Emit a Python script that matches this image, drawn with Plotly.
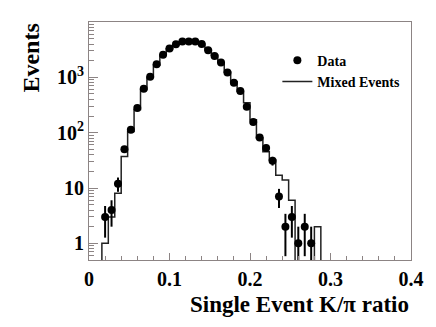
import numpy as np
import plotly.graph_objects as go

# bin layout: 50 bins of 0.008 from 0 to 0.4
bin_edges = [round(0.008 * i, 3) for i in range(51)]

# Data: bin centres and counts (bins with entries)
data_x = [0.020, 0.028, 0.036, 0.044, 0.052, 0.060, 0.068, 0.076, 0.084, 0.092,
          0.100, 0.108, 0.116, 0.124, 0.132, 0.140, 0.148, 0.156, 0.164, 0.172,
          0.180, 0.188, 0.196, 0.204, 0.212, 0.220, 0.228, 0.236, 0.244, 0.252,
          0.260, 0.268, 0.276]
data_y = [3, 4, 12, 50, 113, 280, 620, 1030, 1720, 2550,
          3320, 3950, 4450, 4420, 4420, 4000, 3080, 2440, 1850, 1220,
          800, 565, 293, 156, 82, 53, 31, 7, 2, 3,
          1, 2, 1]

# Mixed events histogram, one value per bin
mixed_y = [0, 0, 1, 3, 8, 37, 105, 262, 600, 1000,
           1650, 2500, 3300, 3900, 4350, 4450, 4350, 4000, 3200, 2500,
           1850, 1250, 830, 560, 347, 172, 80, 45, 32, 17,
           14, 6, 0, 0, 0, 2, 0, 0, 0, 0,
           0, 0, 0, 0, 0, 0, 0, 0, 0, 0]

x_ticks = [0, 0.1, 0.2, 0.3, 0.4]
x_tick_text = ['0', '0.1', '0.2', '0.3', '0.4']
y_ticks = [1, 10, 100, 1000]
y_tick_text = ['1', '10', '10<sup>2</sup>', '10<sup>3</sup>']

FONT = 'Liberation Serif'
Y_MIN = 0.5
Y_MAX = 1e4

# empty bins are drawn on the frame bottom like ROOT does
mixed = np.array(mixed_y, dtype=float)
mixed_draw = np.where(mixed > 0, mixed, Y_MIN * 0.5)
mixed_draw = np.append(mixed_draw, mixed_draw[-1])

counts = np.array(data_y, dtype=float)
err = np.sqrt(counts)
err_minus = np.minimum(err, counts * 0.98)

fig = go.Figure()

fig.add_trace(go.Scatter(
    x=bin_edges,
    y=mixed_draw,
    mode='lines',
    line=dict(shape='hv', color='#222222', width=1.5),
    name='Mixed Events',
    legendrank=2,
))

fig.add_trace(go.Scatter(
    x=data_x,
    y=data_y,
    mode='markers',
    marker=dict(color='black', size=8, symbol='circle'),
    error_y=dict(type='data', array=err, arrayminus=err_minus,
                 color='black', thickness=2, width=0),
    name='Data',
    legendrank=1,
))

axis_color = '#8c8484'

# page body adds an 8px offset, margins account for it
fig.update_layout(
    width=436,
    height=327,
    margin=dict(l=81, r=33, t=14, b=75, autoexpand=False),
    plot_bgcolor='white',
    paper_bgcolor='white',
    font=dict(family=FONT, color='black'),
    showlegend=True,
    legend=dict(
        x=0.585, y=0.905, xanchor='left', yanchor='top',
        bgcolor='rgba(0,0,0,0)',
        font=dict(family=FONT, size=14, weight='bold'),
        itemwidth=30,
        tracegroupgap=0,
    ),
    xaxis=dict(
        range=[0, 0.4],
        tickvals=x_ticks,
        ticktext=x_tick_text,
        ticks='inside',
        ticklen=7,
        tickcolor=axis_color,
        tickfont=dict(family=FONT, size=20, weight='bold'),
        ticklabelstandoff=1,
        minor=dict(ticks='inside', ticklen=4, dtick=0.02, tickcolor=axis_color, showgrid=False),
        showgrid=False,
        zeroline=False,
        showline=True,
        linecolor=axis_color,
        linewidth=1,
        mirror=True,
        automargin=False,
    ),
    yaxis=dict(
        type='log',
        range=[np.log10(Y_MIN), np.log10(Y_MAX)],
        tickvals=y_ticks,
        ticktext=y_tick_text,
        ticks='inside',
        ticklen=9,
        tickcolor=axis_color,
        tickfont=dict(family=FONT, size=20, weight='bold'),
        minor=dict(ticks='inside', ticklen=5, dtick='D1', tickcolor=axis_color, showgrid=False),
        showgrid=False,
        zeroline=False,
        showline=True,
        linecolor=axis_color,
        linewidth=1,
        mirror=True,
        automargin=False,
    ),
)

# axis titles placed ROOT style
fig.add_annotation(
    text='Events',
    xref='paper', yref='paper',
    x=-0.183, y=1.0,
    xanchor='center', yanchor='top',
    textangle=-90,
    showarrow=False,
    font=dict(family=FONT, size=24, weight='bold'),
)
fig.add_annotation(
    text='Single Event K/π ratio',
    xref='paper', yref='paper',
    x=1.0, y=-0.185,
    xanchor='right', yanchor='middle',
    showarrow=False,
    font=dict(family=FONT, size=23, weight='bold'),
)

fig.write_html('out.html')
